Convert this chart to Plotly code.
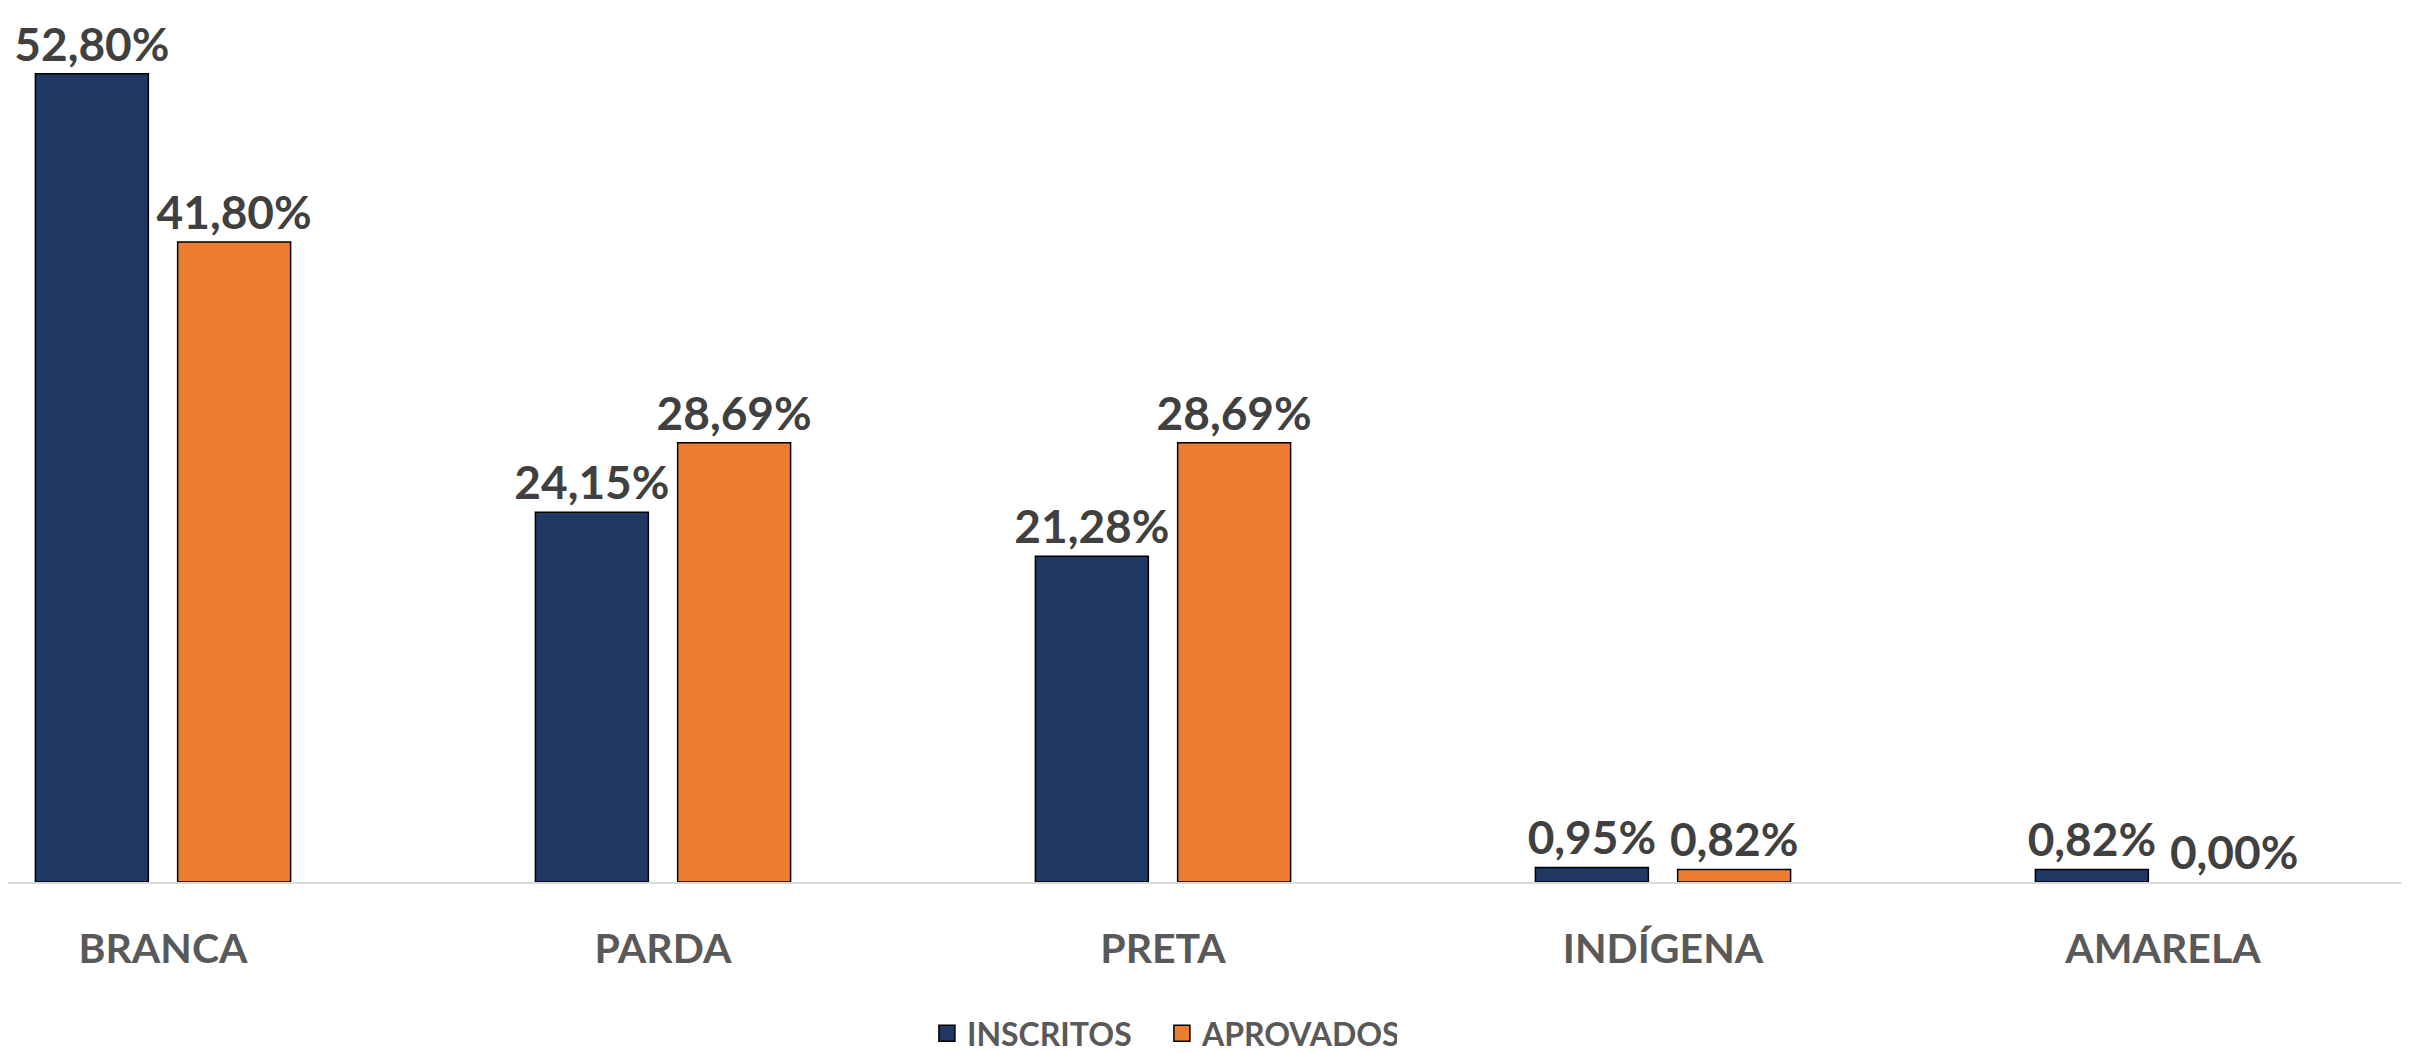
import plotly.graph_objects as go

categorias = ["BRANCA", "PARDA", "PRETA", "INDÍGENA", "AMARELA"]
inscritos = [52.80, 24.15, 21.28, 0.95, 0.82]
aprovados = [41.80, 28.69, 28.69, 0.82, 0.00]

COR_INSCRITOS = "#203864"
COR_APROVADOS = "#ED7D31"
FONTE = "Lato"


def _rotulo(valores):
    return [f"{v:.2f}%".replace(".", ",") for v in valores]


fig = go.Figure()
for nome, valores, cor in [
    ("INSCRITOS", inscritos, COR_INSCRITOS),
    ("APROVADOS", aprovados, COR_APROVADOS),
]:
    fig.add_trace(
        go.Bar(
            x=categorias,
            y=valores,
            name=nome,
            marker={
                "color": cor,
                # no outline on empty bars, Excel draws nothing there
                "line": {"color": "#000000", "width": [1.5 if v > 0 else 0 for v in valores]},
            },
            text=_rotulo(valores),
            textposition="outside",
            constraintext="none",
            textfont={"family": FONTE, "size": 46, "color": "#404040", "weight": "bold"},
            cliponaxis=False,
            showlegend=False,
        )
    )
    # legend entry with a bigger square than plotly's bar swatch
    fig.add_trace(
        go.Scatter(
            x=[None],
            y=[None],
            mode="markers",
            name=nome,
            marker={"symbol": "square", "size": 21, "color": cor,
                    "line": {"color": "#000000", "width": 1.5}},
        )
    )

fig.update_layout(
    width=2409,
    height=1053,
    barmode="group",
    bargap=0.431,
    bargroupgap=0.206,
    plot_bgcolor="#FFFFFF",
    paper_bgcolor="#FFFFFF",
    margin={"l": 0, "r": 0, "t": 32, "b": 167},
    legend={
        "orientation": "h",
        "x": 0.479,
        "xanchor": "center",
        "y": -0.18,
        "yanchor": "middle",
        "font": {"family": FONTE, "size": 32, "color": "#595959", "weight": "bold"},
        "itemwidth": 30,
        "entrywidth": 190,
        "entrywidthmode": "pixels",
        "tracegroupgap": 0,
    },
)
fig.update_xaxes(
    range=[-0.31, 4.508],
    showline=True,
    linecolor="#D9D9D9",
    linewidth=2,
    showgrid=False,
    ticks="",
    ticklabelstandoff=30,
    tickfont={"family": FONTE, "size": 41, "color": "#595959", "weight": "bold"},
)
fig.update_yaxes(range=[0, 55], visible=False, showgrid=False, zeroline=False)

fig.write_html("out.html")
